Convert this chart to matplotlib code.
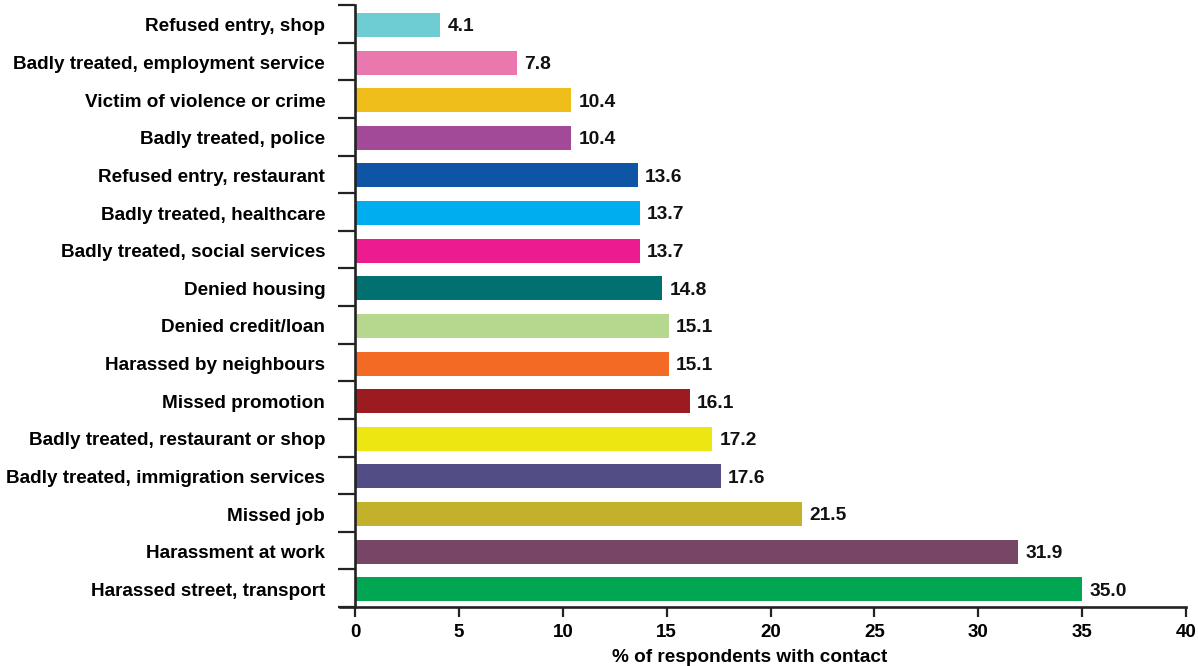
import matplotlib
matplotlib.use("Agg")
import matplotlib.pyplot as plt

categories = [
    "Harassed street, transport",
    "Harassment at work",
    "Missed job",
    "Badly treated, immigration services",
    "Badly treated, restaurant or shop",
    "Missed promotion",
    "Harassed by neighbours",
    "Denied credit/loan",
    "Denied housing",
    "Badly treated, social services",
    "Badly treated, healthcare",
    "Refused entry, restaurant",
    "Badly treated, police",
    "Victim of violence or crime",
    "Badly treated, employment service",
    "Refused entry, shop",
]
values = [35.0, 31.9, 21.5, 17.6, 17.2, 16.1, 15.1, 15.1, 14.8, 13.7, 13.7, 13.6, 10.4, 10.4, 7.8, 4.1]
colors = ["#00A651", "#774565", "#C3B02B", "#524E85", "#EDE613", "#9B1B20",
          "#F26A24", "#B5D88E", "#007070", "#EC1C8E", "#00AEEF", "#0E56A5",
          "#A24A98", "#F0BE1A", "#E878AE", "#6ECCD3"]
xticks = [0, 5, 10, 15, 20, 25, 30, 35, 40]
xlabel = "% of respondents with contact"

plt.rcParams['font.family'] = ['Liberation Sans', 'DejaVu Sans']
plt.rcParams['font.weight'] = 'bold'

fig = plt.figure(figsize=(11.98, 6.66), dpi=100)
ax = fig.add_axes([340.5/1198, 1-607/666, (1186-340.5)/1198, (607-5)/666])

pos = list(range(len(categories)))
ypos = [p - 0.03 for p in pos]
ax.barh(ypos, values, height=0.64, color=colors)
for y, v in zip(ypos, values):
    ax.text(v + 0.35, y - 0.05, f"{v:.1f}", va='center', ha='left',
            fontsize=13.8, fontweight='bold', color='#111111')

ax.set_xlim(-0.7, 40)
ax.set_ylim(-0.5, 15.5)
ax.spines['left'].set_position(('data', 0))
ax.spines['right'].set_visible(False)
ax.spines['top'].set_visible(False)
for s in ('left', 'bottom'):
    ax.spines[s].set_linewidth(1.9)
    ax.spines[s].set_color('#222222')

ax.set_xticks(xticks)
ax.set_xticklabels([str(t) for t in xticks], fontsize=13.5, fontweight='bold')
ax.tick_params(axis='x', direction='out', length=7.5, width=1.6, color='#222222', pad=5)

ax.set_yticks([p + 0.5 for p in pos] + [-0.5])
ax.set_yticklabels([])
ax.tick_params(axis='y', direction='out', length=12, width=1.6, color='#222222')
ax.set_yticks(ypos, minor=True)
ax.set_yticklabels(categories, minor=True, fontsize=13.6, fontweight='bold')
ax.tick_params(axis='y', which='minor', length=0, pad=21.5)

ax.set_xlabel(xlabel, fontsize=13.7, fontweight='bold')
ax.xaxis.set_label_coords((750-340.5)/(1186-340.5), -0.07)

fig.savefig("out.png", dpi=100)
